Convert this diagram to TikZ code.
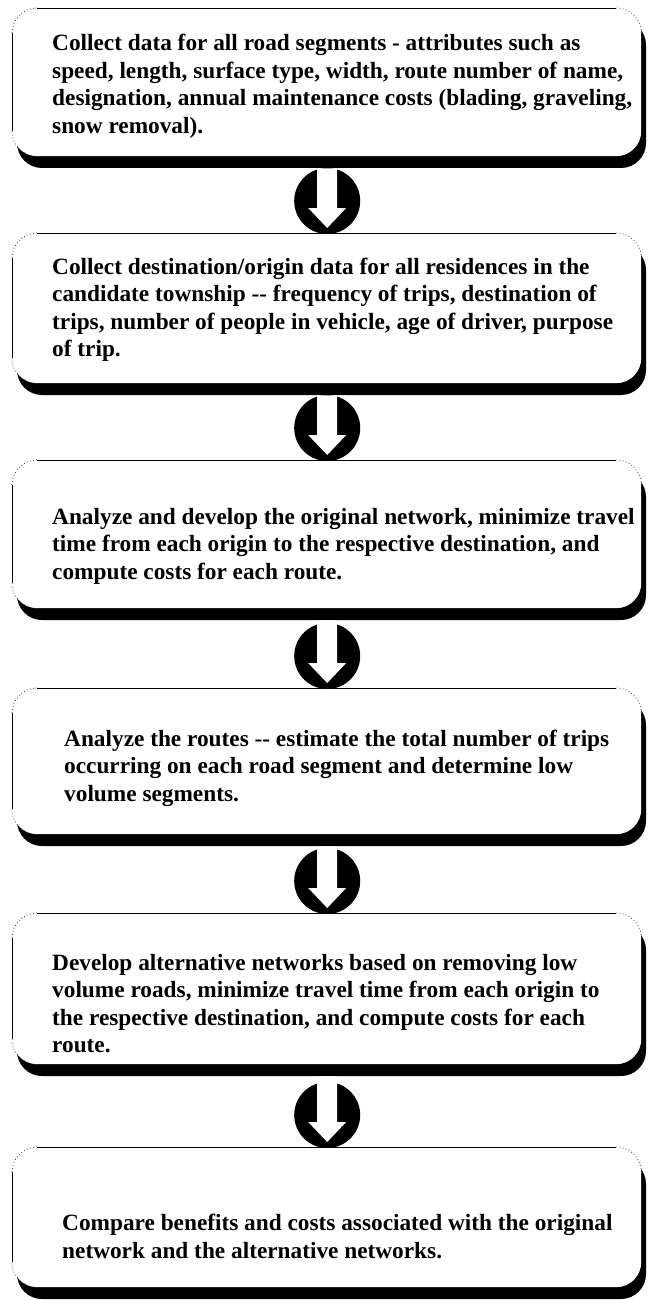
\documentclass[tikz,border=0pt]{standalone}
\usepackage{fontspec}
\setmainfont{Liberation Serif}
\usetikzlibrary{calc}
\tikzset{
  stepbox/.style={draw=none, fill=white, rounded corners=25pt, minimum width=629pt, inner sep=0pt, anchor=north west},
  boxshadow/.style={fill=black, rounded corners=25pt},
  edgeline/.style={line width=0.9pt, black},
  dotcorner/.style={line width=0.8pt, black!75, dash pattern=on 0.8pt off 2.4pt},
  steptext/.style={anchor=west, align=left, inner sep=0pt, font=\fontsize{23.3}{27.5}\selectfont\bfseries},
  arrowdisc/.style={fill=black},
  arrowbody/.style={fill=white}
}
\newcommand\flowbox[3]{%
  \fill[boxshadow] (17,#2+12) rectangle (646,#3+12);
  \node[stepbox, minimum height={(#3-#2)*1pt}] (#1) at (12,#2) {};
  \draw[edgeline] ([xshift=25pt]#1.north west) -- ([xshift=-25pt]#1.north east);
  \draw[edgeline] ([yshift=-25pt]#1.north west) -- ([yshift=25pt]#1.south west);
  \draw[dotcorner] ([yshift=-25pt]#1.north west) arc[start angle=180, end angle=90, radius=25pt];
  \draw[dotcorner] ([xshift=-25pt]#1.north east) arc[start angle=90, end angle=0, radius=25pt];
  \draw[dotcorner] ([yshift=25pt]#1.south west) arc[start angle=180, end angle=270, radius=25pt];
}
\newcommand\flowarrow[3]{% name, upper box, lower box
  \coordinate (#1) at ([shift={(0.5pt,32pt)}]#3.north);
  \coordinate (#1s) at ([yshift=-12pt]#2.south);
  \fill[arrowdisc] (#1) circle[radius=33pt];
  \fill[arrowbody] ($(#1 |- #1s)+(-10pt,0pt)$) -- ($(#1)+(-10pt,-7pt)$) -- ($(#1)+(-19pt,-7pt)$)
     -- ($(#1)+(0pt,-27pt)$) -- ($(#1)+(19pt,-7pt)$) -- ($(#1)+(10pt,-7pt)$)
     -- ($(#1 |- #1s)+(10pt,0pt)$) -- cycle;
}
\begin{document}
\begin{tikzpicture}[x=1pt,y=-1pt]
\useasboundingbox[fill=white] (0,0) rectangle (649,1300);
\flowbox{b1}{8}{156}
\flowbox{b2}{233}{383}
\flowbox{b3}{460}{608}
\flowbox{b4}{688}{834}
\flowbox{b5}{913}{1064}
\flowbox{b6}{1147}{1287}

\node[steptext] (t1) at (52,86.5) {Collect data for all road segments - attributes such as\\
speed, length, surface type, width, route number of name,\\
designation, annual maintenance costs (blading, graveling,\\
snow removal).};
\node[steptext] (t2) at (52,310) {Collect destination/origin data for all residences in the\\
candidate township -{}- frequency of trips, destination of\\
trips, number of people in vehicle, age of driver, purpose\\
of trip.};
\node[steptext] (t3) at (52,546) {Analyze and develop the original network, minimize travel\\
time from each origin to the respective destination, and\\
compute costs for each route.};
\node[steptext] (t4) at (64,768) {Analyze the routes -{}- estimate the total number of trips\\
occurring on each road segment and determine low\\
volume segments.};
\node[steptext] (t5) at (52,1003.5) {Develop alternative networks based on removing low\\
volume roads, minimize travel time from each origin to\\
the respective destination, and compute costs for each\\
route.};
\node[steptext] (t6) at (62,1236.5) {Compare benefits and costs associated with the original\\
network and the alternative networks.};

\flowarrow{a1}{b1}{b2}
\flowarrow{a2}{b2}{b3}
\flowarrow{a3}{b3}{b4}
\flowarrow{a4}{b4}{b5}
\flowarrow{a5}{b5}{b6}
\end{tikzpicture}
\end{document}
